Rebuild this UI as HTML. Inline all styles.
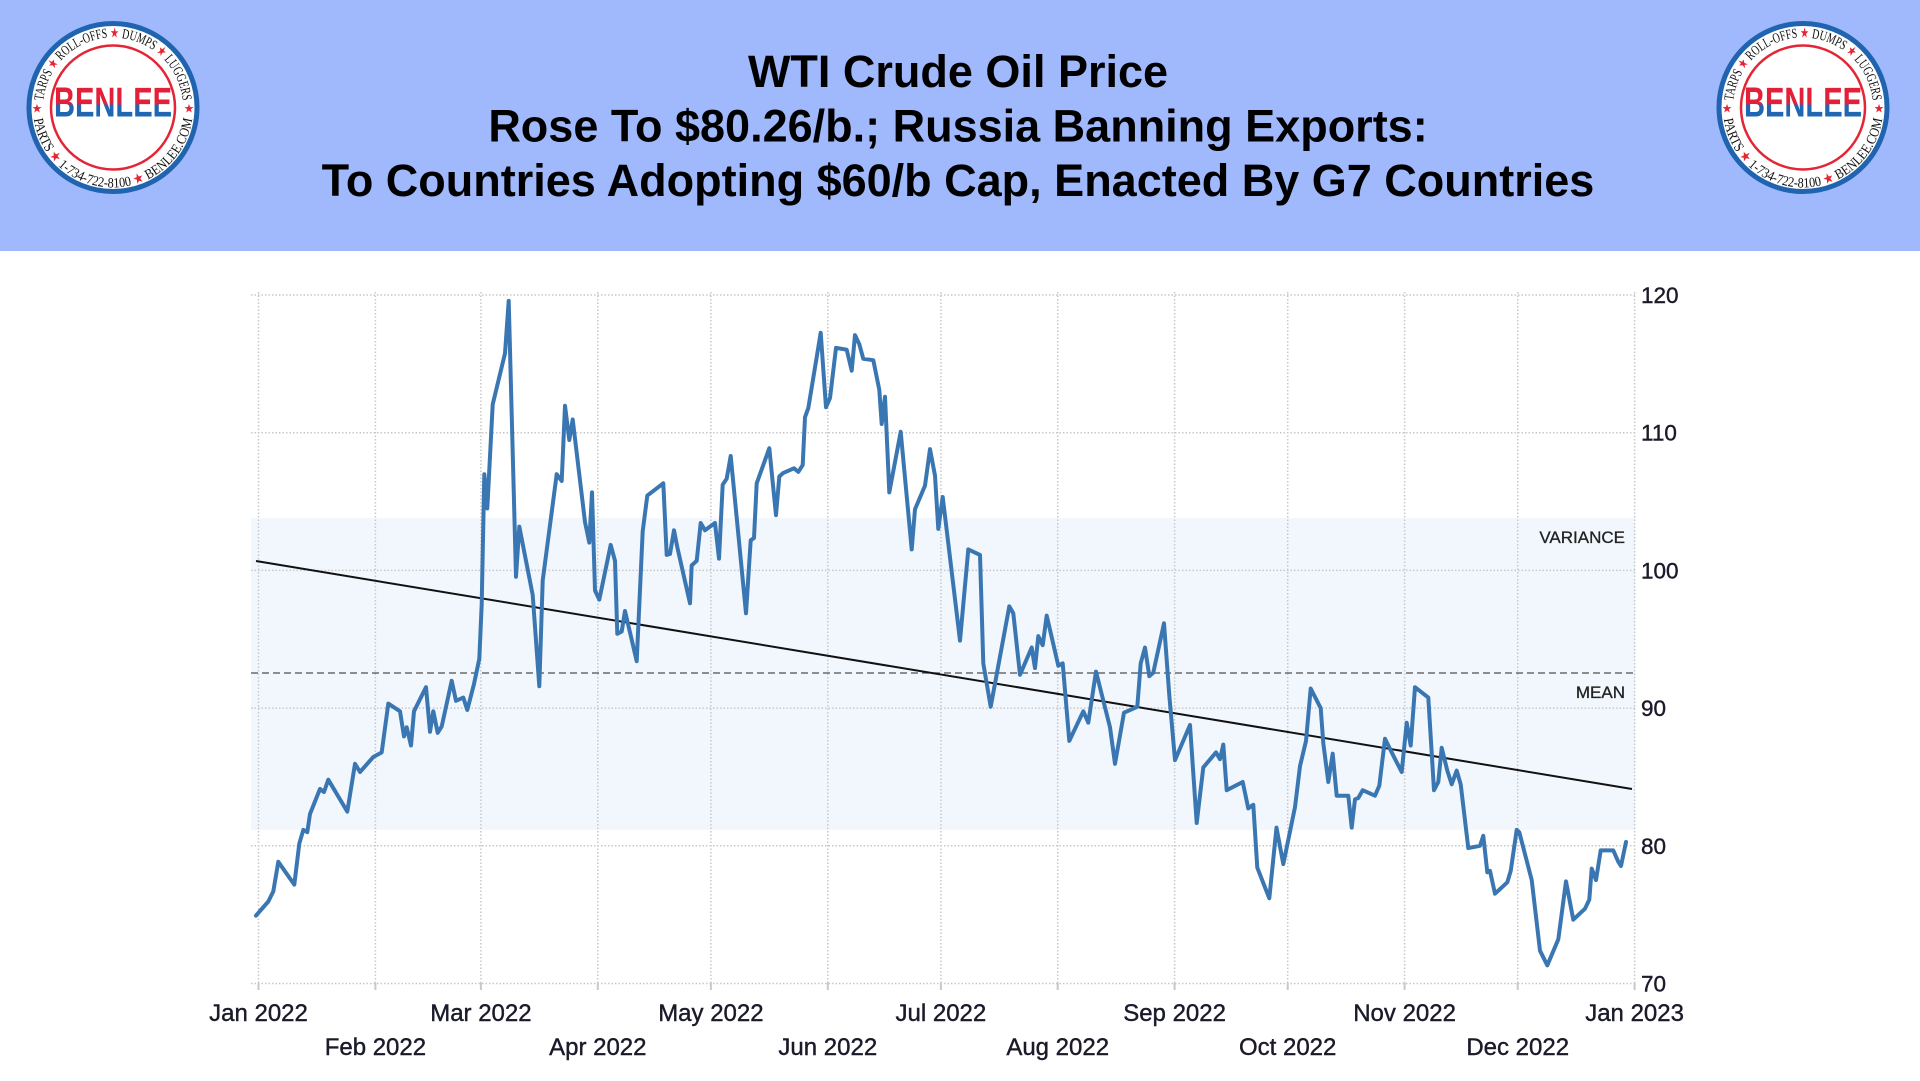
<!DOCTYPE html>
<html>
<head>
<meta charset="utf-8">
<style>
html,body{margin:0;padding:0;background:#fff;}
body{width:1920px;height:1081px;overflow:hidden;}
svg{display:block;}
</style>
</head>
<body>
<svg width="1920" height="1081" viewBox="0 0 1920 1081" xmlns="http://www.w3.org/2000/svg">
<defs>
  <linearGradient id="bl" x1="0" y1="-21" x2="0" y2="9" gradientUnits="userSpaceOnUse">
    <stop offset="0" stop-color="#e3203a"/>
    <stop offset="0.6" stop-color="#e3203a"/>
    <stop offset="0.6" stop-color="#1f66b3"/>
    <stop offset="1" stop-color="#1f66b3"/>
  </linearGradient>
  <path id="topArc" d="M -70 0 A 70 70 0 0 1 70 0"/>
  <path id="botArc" d="M -80 0 A 80 80 0 0 0 80 0"/>
</defs>

<!-- Header -->
<rect x="0" y="0" width="1920" height="251" fill="#a0b8fc"/>
<g font-family="'Liberation Sans', Arial, sans-serif" font-weight="bold" font-size="45" fill="#000" text-anchor="middle">
  <text x="958" y="87">WTI Crude Oil Price</text>
  <text x="958" y="141.5">Rose To $80.26/b.; Russia Banning Exports:</text>
  <text x="958" y="196">To Countries Adopting $60/b Cap, Enacted By G7 Countries</text>
</g>

<!-- Left logo -->
<g transform="translate(113,107.5)">
  <circle r="84" fill="#fff" stroke="#2064b0" stroke-width="5"/>
  <circle r="62" fill="none" stroke="#e42535" stroke-width="2.5"/>
  <text font-family="'Liberation Serif', serif" font-size="14" fill="#111" text-anchor="middle">
    <textPath href="#topArc" startOffset="50%" textLength="206" lengthAdjust="spacingAndGlyphs">TARPS <tspan fill="#e42535">★</tspan> ROLL-OFFS <tspan fill="#e42535">★</tspan> DUMPS <tspan fill="#e42535">★</tspan> LUGGERS</textPath>
  </text>
  <text font-family="'Liberation Serif', serif" font-size="14" fill="#111" text-anchor="middle">
    <textPath href="#botArc" startOffset="50%" textLength="228" lengthAdjust="spacingAndGlyphs">PARTS <tspan fill="#e42535">★</tspan> 1-734-722-8100 <tspan fill="#e42535">★</tspan> BENLEE.COM</textPath>
  </text>
  <text x="-76" y="5" font-size="12" fill="#e42535" text-anchor="middle" font-family="'DejaVu Sans', sans-serif">★</text>
  <text x="76" y="5" font-size="12" fill="#e42535" text-anchor="middle" font-family="'DejaVu Sans', sans-serif">★</text>
  <text x="0" y="9" font-family="'Liberation Sans', Arial, sans-serif" font-weight="bold" font-size="42" text-anchor="middle" textLength="118" lengthAdjust="spacingAndGlyphs" fill="url(#bl)">BENLEE</text>
</g>

<!-- Right logo -->
<g transform="translate(1803,107.5)">
  <circle r="84" fill="#fff" stroke="#2064b0" stroke-width="5"/>
  <circle r="62" fill="none" stroke="#e42535" stroke-width="2.5"/>
  <text font-family="'Liberation Serif', serif" font-size="14" fill="#111" text-anchor="middle">
    <textPath href="#topArc" startOffset="50%" textLength="206" lengthAdjust="spacingAndGlyphs">TARPS <tspan fill="#e42535">★</tspan> ROLL-OFFS <tspan fill="#e42535">★</tspan> DUMPS <tspan fill="#e42535">★</tspan> LUGGERS</textPath>
  </text>
  <text font-family="'Liberation Serif', serif" font-size="14" fill="#111" text-anchor="middle">
    <textPath href="#botArc" startOffset="50%" textLength="228" lengthAdjust="spacingAndGlyphs">PARTS <tspan fill="#e42535">★</tspan> 1-734-722-8100 <tspan fill="#e42535">★</tspan> BENLEE.COM</textPath>
  </text>
  <text x="-76" y="5" font-size="12" fill="#e42535" text-anchor="middle" font-family="'DejaVu Sans', sans-serif">★</text>
  <text x="76" y="5" font-size="12" fill="#e42535" text-anchor="middle" font-family="'DejaVu Sans', sans-serif">★</text>
  <text x="0" y="9" font-family="'Liberation Sans', Arial, sans-serif" font-weight="bold" font-size="42" text-anchor="middle" textLength="118" lengthAdjust="spacingAndGlyphs" fill="url(#bl)">BENLEE</text>
</g>

<!-- Variance band -->
<rect x="251" y="518" width="1384" height="312" fill="#f2f7fd"/>

<!-- Horizontal gridlines -->
<g stroke="#c8c8c8" stroke-width="1.5" stroke-dasharray="1.5 2">
  <line x1="251" y1="295" x2="1635" y2="295"/>
  <line x1="251" y1="432.7" x2="1635" y2="432.7"/>
  <line x1="251" y1="570.4" x2="1635" y2="570.4"/>
  <line x1="251" y1="708.1" x2="1635" y2="708.1"/>
  <line x1="251" y1="845.8" x2="1635" y2="845.8"/>
  <line x1="251" y1="983.5" x2="1635" y2="983.5"/>
</g>
<!-- Vertical gridlines -->
<g stroke="#c8c8c8" stroke-width="1.5" stroke-dasharray="1.5 2">
  <line x1="258.5" y1="292" x2="258.5" y2="983"/>
  <line x1="375.4" y1="292" x2="375.4" y2="983"/>
  <line x1="480.9" y1="292" x2="480.9" y2="983"/>
  <line x1="597.8" y1="292" x2="597.8" y2="983"/>
  <line x1="710.9" y1="292" x2="710.9" y2="983"/>
  <line x1="827.8" y1="292" x2="827.8" y2="983"/>
  <line x1="940.9" y1="292" x2="940.9" y2="983"/>
  <line x1="1057.7" y1="292" x2="1057.7" y2="983"/>
  <line x1="1174.6" y1="292" x2="1174.6" y2="983"/>
  <line x1="1287.7" y1="292" x2="1287.7" y2="983"/>
  <line x1="1404.6" y1="292" x2="1404.6" y2="983"/>
  <line x1="1517.7" y1="292" x2="1517.7" y2="983"/>
  <line x1="1634.6" y1="292" x2="1634.6" y2="983"/>
</g>
<!-- Ticks -->
<g stroke="#c8c8c8" stroke-width="2">
  <line x1="258.5" y1="983" x2="258.5" y2="990"/>
  <line x1="375.4" y1="983" x2="375.4" y2="990"/>
  <line x1="480.9" y1="983" x2="480.9" y2="990"/>
  <line x1="597.8" y1="983" x2="597.8" y2="990"/>
  <line x1="710.9" y1="983" x2="710.9" y2="990"/>
  <line x1="827.8" y1="983" x2="827.8" y2="990"/>
  <line x1="940.9" y1="983" x2="940.9" y2="990"/>
  <line x1="1057.7" y1="983" x2="1057.7" y2="990"/>
  <line x1="1174.6" y1="983" x2="1174.6" y2="990"/>
  <line x1="1287.7" y1="983" x2="1287.7" y2="990"/>
  <line x1="1404.6" y1="983" x2="1404.6" y2="990"/>
  <line x1="1517.7" y1="983" x2="1517.7" y2="990"/>
  <line x1="1634.6" y1="983" x2="1634.6" y2="990"/>
</g>

<!-- Mean line -->
<line x1="251" y1="673" x2="1635" y2="673" stroke="#6a6a6a" stroke-width="1.5" stroke-dasharray="7 4"/>

<!-- Labels variance / mean -->
<g font-family="'Liberation Sans', Arial, sans-serif" font-size="17" fill="#222" stroke="#222" stroke-width="0.3" text-anchor="end">
  <text x="1625" y="543">VARIANCE</text>
  <text x="1625" y="698">MEAN</text>
</g>

<!-- Trend line -->
<line x1="256" y1="561" x2="1632" y2="789" stroke="#111" stroke-width="2"/>

<!-- Price series -->
<polyline fill="none" stroke="#3a77b2" stroke-width="4" stroke-linejoin="round" stroke-linecap="round" points="
256,915.6 268.3,901.5 273.3,891.4 278.3,861.8 294.3,884.6 299.3,843.6 303.3,829.9 307.3,832.2 310,814 320,788.9 324,792 328.3,779.7 347.3,811.6 355,763.8 360,772 373.3,757 381.7,752.4 388.3,703.6 400,711.3 404,736.4 406.7,727.3 411,745.5 414,711.3 426,687.2 430,731.8 433.3,711.3 437.7,732.8 441.7,726.4 451.7,680.8 456,700.8 463.3,697.6 467.3,710 474,684 479.3,658.9 481.7,604.2 484.3,474.2 487.3,508.4 492.7,404.4 505,353.4 508.7,300.9 516,576.8 519.3,526.6 532.7,595 539.3,686.2 542.7,580.5 556.7,474.2 561.7,481 565,405.8 569.3,440 572.7,419.5 585,522.1 589.3,542.6 592,492.4 595,590.5 599.3,599.6 610.7,544.9 615,560.8 617.3,633.8 621.7,631.5 625,611 636.7,661.2 642.7,531.2 647.3,495.6 663.3,483.3 666.7,554.9 670,554 674,530.3 677.3,547.2 690,603.3 691.7,565.4 696.7,560.8 700.7,523 705,530.3 715,523 719,558.6 722.7,484.7 726.7,478.7 730.7,456 746,613.3 750.7,540.3 754,538 756.7,483.3 769.3,448.2 776,515.2 779.3,476.5 783.3,472.9 794,468.3 798.3,471.9 802.7,465.1 805,417.2 808.3,408.1 820.7,332.8 826,407.2 830,398.1 836,347.9 846.7,349.7 851.7,370.7 855,335.1 859.3,344.2 863.3,358.8 873.3,360.2 879.3,389.8 881.7,424 885,396.7 889.3,492.4 900.7,431.8 911.7,549.4 915,509.3 925,485.6 930,449.1 935,475.6 938.3,528.9 942.7,497 960,640.6 968.3,549.4 980,554.9 983.3,663.4 990.7,706.8 1009.3,606.4 1013.3,613.3 1020,674.8 1031.7,647.5 1035,668 1038.3,636.1 1042.7,645.2 1046.7,615.6 1058.3,665.7 1062.7,663.4 1069.3,740.9 1083.3,711.3 1088.3,722.7 1096,671.6 1110,727.3 1115,763.8 1124,712.7 1137.3,706.8 1140.7,663.4 1145,647.5 1149.3,676.2 1153.3,672.6 1164,623.3 1169.3,695.4 1175,760.1 1190,725 1196.7,823 1203.3,767.4 1216,752.4 1220,759.2 1223.3,744.6 1226.7,790.2 1242.7,782 1248.3,808.4 1253.3,804.8 1257.3,867.7 1269.3,898.3 1276.5,827.6 1283.3,864.1 1295,807.1 1300,766.1 1306,741 1310.7,688.5 1320.7,708.1 1323.3,743.2 1328.3,782 1332.7,753.7 1336.7,795.7 1348.3,795.7 1351.7,827.6 1355,799.3 1358.3,798 1362.7,790.2 1375,795.7 1379.3,785.7 1385,738.7 1394,757 1401.7,772 1406.7,722.7 1410.7,745.5 1415,687.2 1428.3,697.6 1434,790.2 1438.3,782 1441.7,747.8 1447.3,770.6 1451.7,784.3 1456.7,770.6 1460.7,784.3 1468.3,848.1 1480,845.8 1483.3,835.8 1487.3,872.3 1490,870.9 1495,893.7 1507.3,882.3 1510.7,870.9 1516.7,829.9 1519.3,832.2 1531.7,880 1540,950.7 1547.3,965.3 1558.3,939.3 1566,881.4 1573.3,919.7 1585,908.7 1589.3,899.6 1591.7,868.6 1596,880 1600.7,850.4 1613.3,850.4 1618.3,861.8 1621,866 1626,842"/>

<!-- Y axis labels -->
<g font-family="'Liberation Sans', Arial, sans-serif" font-size="22.5" fill="#1a1a2a" stroke="#1a1a2a" stroke-width="0.4">
  <text x="1641" y="303">120</text>
  <text x="1641" y="440.7">110</text>
  <text x="1641" y="578.4">100</text>
  <text x="1641" y="716.1">90</text>
  <text x="1641" y="853.8">80</text>
  <text x="1641" y="991.5">70</text>
</g>

<!-- X axis labels -->
<g font-family="'Liberation Sans', Arial, sans-serif" font-size="24" fill="#1a1a2a" stroke="#1a1a2a" stroke-width="0.4" text-anchor="middle">
  <text x="258.5" y="1021">Jan 2022</text>
  <text x="480.9" y="1021">Mar 2022</text>
  <text x="710.9" y="1021">May 2022</text>
  <text x="940.9" y="1021">Jul 2022</text>
  <text x="1174.6" y="1021">Sep 2022</text>
  <text x="1404.6" y="1021">Nov 2022</text>
  <text x="1634.6" y="1021">Jan 2023</text>
  <text x="375.4" y="1055">Feb 2022</text>
  <text x="597.8" y="1055">Apr 2022</text>
  <text x="827.8" y="1055">Jun 2022</text>
  <text x="1057.7" y="1055">Aug 2022</text>
  <text x="1287.7" y="1055">Oct 2022</text>
  <text x="1517.7" y="1055">Dec 2022</text>
</g>
</svg>
</body>
</html>
